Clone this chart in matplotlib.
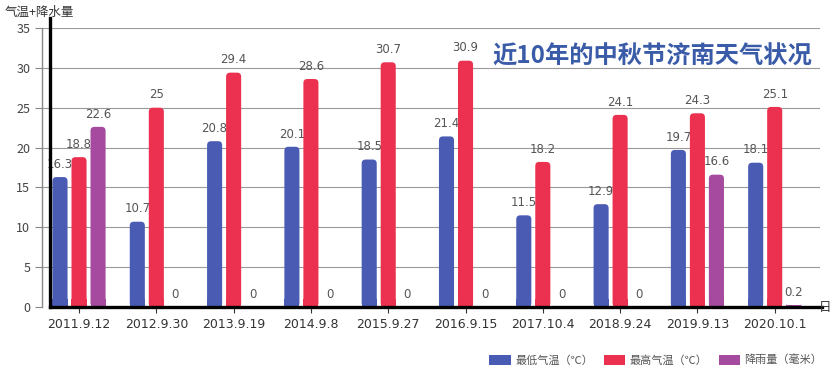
import numpy as np
import matplotlib.pyplot as plt
from matplotlib.patches import FancyBboxPatch, Rectangle, Patch

plt.rcParams['font.family'] = ['Noto Sans CJK SC', 'DejaVu Sans']

# 数据
dates = ["2011.9.12", "2012.9.30", "2013.9.19", "2014.9.8", "2015.9.27",
         "2016.9.15", "2017.10.4", "2018.9.24", "2019.9.13", "2020.10.1"]
low_temp = [16.3, 10.7, 20.8, 20.1, 18.5, 21.4, 11.5, 12.9, 19.7, 18.1]
high_temp = [18.8, 25, 29.4, 28.6, 30.7, 30.9, 18.2, 24.1, 24.3, 25.1]
rain = [22.6, 0, 0, 0, 0, 0, 0, 0, 16.6, 0.2]

series_names = ["最低气温（℃）", "最高气温（℃）", "降雨量（毫米）"]
colors = ["#4a5bb3", "#ec3150", "#a54a9e"]

fig = plt.figure(figsize=(8.32, 3.77), dpi=100)
ax = fig.add_axes([42 / 832, 70 / 377, (820 - 42) / 832, (349 - 70) / 377])

x = np.arange(len(dates))
width = 0.195
offsets = [-0.246, 0, 0.246]
# px -> unidades de datos, para redondear la parte de arriba
px_x = 1 / 77.3
px_y = 1 / 7.97


def rounded_bars(bars, color):
    for b in bars:
        bx, by = b.get_x(), b.get_y()
        bw, bh = b.get_width(), b.get_height()
        b.set_visible(False)
        r = 4 * px_x
        if bh > 0:
            p = FancyBboxPatch((bx, by), bw, bh,
                               boxstyle="round,pad=0,rounding_size=%f" % r,
                               mutation_aspect=px_y / px_x,
                               fc=color, ec="none", zorder=3)
            ax.add_patch(p)
            ax.add_patch(Rectangle((bx, by), bw, min(bh, 1.0), fc=color, ec="none", zorder=3))


for vals, off, col in zip([low_temp, high_temp, rain], offsets, colors):
    bars = ax.bar(x + off, vals, width, color=col, zorder=3)
    rounded_bars(bars, col)
    for xi, v in zip(x + off, vals):
        label = "%g" % v
        ax.annotate(label, (xi, v), xytext=(0, 4.5), textcoords="offset points",
                    ha="center", va="bottom", fontsize=8.5, color="#555555",
                    family=['DejaVu Sans'])

ax.set_xlim(-0.479, 9.586)
ax.set_ylim(0, 35)
ax.set_yticks(np.arange(0, 36, 5))
ax.set_xticks(x)
ax.set_xticklabels(dates, fontsize=9, color="#333333", family=['DejaVu Sans'])
ax.tick_params(axis="y", labelsize=9, labelcolor="#444444", color="#888888", length=5)
ax.tick_params(axis="x", color="#333333", length=4, pad=4)
ax.grid(axis="y", color="#999999", linewidth=0.8, zorder=0)
for s in ["top", "right", "bottom"]:
    ax.spines[s].set_visible(False)
ax.spines["left"].set_color("#888888")
ax.spines["left"].set_linewidth(1)

# ejes negros gruesos
x_black = -0.479 + 8 * px_x
ax.plot([x_black, x_black], [0, 36.3], color="black", lw=2.4, clip_on=False, zorder=5)
ax.plot([x_black, 9.61], [0, 0], color="black", lw=2.4, clip_on=False, zorder=5)

fig.text(5 / 832, 1 - 12 / 377, "气温+降水量", fontsize=9, color="#333333",
         ha="left", va="center")
fig.text(819 / 832, 1 - 307 / 377, "日", fontsize=9, color="#333333",
         ha="left", va="center")

fig.text(812 / 832, 1 - 57 / 377, "近10年的中秋节济南天气状况", fontsize=17.5,
         fontweight="bold", color="#3a5ba8", ha="right", va="center")

handles = [Patch(fc=c, ec="none") for c in colors]
fig.legend(handles, series_names, loc="center right", bbox_to_anchor=(822 / 832, 1 - 360 / 377),
           ncol=3, frameon=False, fontsize=8, labelcolor="#555555",
           handlelength=1.9, handleheight=1.0, columnspacing=1.0, handletextpad=0.4,
           borderaxespad=0, borderpad=0)

fig.savefig("out.png", dpi=100)
